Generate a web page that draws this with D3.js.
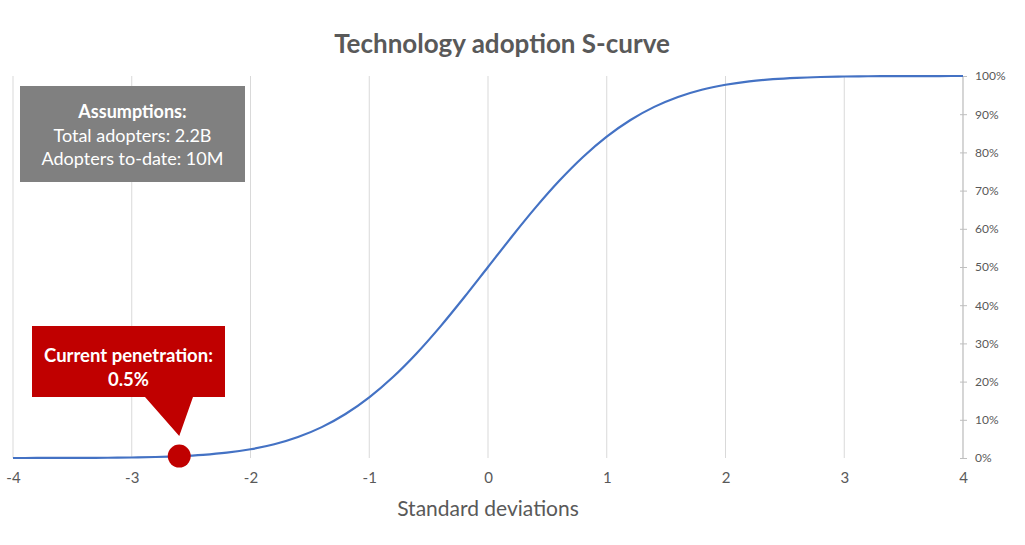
<!DOCTYPE html>
<html><head><meta charset="utf-8">
<script src="https://cdn.jsdelivr.net/npm/d3@7/dist/d3.min.js"></script>
<style>body{margin:0;background:#fff}svg{display:block}</style>
</head><body>
<svg id="c" width="1025" height="545"></svg>
<script>
// Data
const sdValues = [-4,-3.8,-3.6,-3.4,-3.2,-3,-2.8,-2.6,-2.4,-2.2,-2,-1.8,-1.6,-1.4,-1.2,-1,-0.8,-0.6,-0.4,-0.2,0,0.2,0.4,0.6,0.8,1,1.2,1.4,1.6,1.8,2,2.2,2.4,2.6,2.8,3,3.2,3.4,3.6,3.8,4];
const adoption = [0.00003,0.00007,0.00016,0.00034,0.00069,0.00135,0.00256,0.00466,0.0082,0.0139,0.0228,0.0359,0.0548,0.0808,0.1151,0.1587,0.2119,0.2743,0.3446,0.4207,0.5,0.5793,0.6554,0.7257,0.7881,0.8413,0.8849,0.9192,0.9452,0.9641,0.9772,0.9861,0.9918,0.99534,0.99744,0.99865,0.99931,0.99966,0.99984,0.99993,0.99997];
const xTicks = [-4,-3,-2,-1,0,1,2,3,4];
const yTicks = [0,0.1,0.2,0.3,0.4,0.5,0.6,0.7,0.8,0.9,1];
const currentPoint = {sd: -2.6, value: 0.005};
const title = "Technology adoption S-curve";
const xTitle = "Standard deviations";
const assumptionLines = ["Assumptions:", "Total adopters: 2.2B", "Adopters to-date: 10M"];
const calloutLines = ["Current penetration:", "0.5%"];

const font = "Lato, 'Open Sans', sans-serif";
const svg = d3.select("#c");
const x = d3.scaleLinear().domain([-4,4]).range([13,963]);
const y = d3.scaleLinear().domain([0,1]).range([458,76]);

// vertical gridlines
svg.append("g").selectAll("line").data(xTicks).join("line")
  .attr("x1", d=>x(d)).attr("x2", d=>x(d))
  .attr("y1", y(1)).attr("y2", y(0))
  .attr("stroke", "#d9d9d9").attr("stroke-width", 1);

// right y axis
const yAxis = d3.axisRight(y).tickValues(yTicks).tickFormat(d3.format(".0%")).tickSize(4).tickPadding(8);
const ya = svg.append("g").attr("transform", `translate(${x(4)},0)`).call(yAxis);
ya.select(".domain").attr("stroke", "#bfbfbf").attr("d", `M0,${y(1)}V${y(0)}`);
ya.selectAll(".tick line").attr("stroke", "#bfbfbf").attr("x1", -3);
ya.selectAll(".tick text").attr("fill", "#595959").attr("font-family", font).attr("font-size", 12);

// x axis labels
const xAxis = d3.axisBottom(x).tickValues(xTicks).tickSize(0).tickPadding(14).tickFormat(d3.format("d"));
const xa = svg.append("g").attr("transform", `translate(0,${y(0)})`).call(xAxis);
xa.select(".domain").remove();
xa.selectAll(".tick text").attr("fill", "#595959").attr("font-family", font).attr("font-size", 15)
  .text(d => d < 0 ? "-" + Math.abs(d) : d);

// curve
const line = d3.line().x((d,i)=>x(sdValues[i])).y(d=>y(d)).curve(d3.curveMonotoneX);
svg.append("path").datum(adoption).attr("d", line)
  .attr("fill", "none").attr("stroke", "#4472c4").attr("stroke-width", 2.2);

// title
svg.append("text").attr("x", 502).attr("y", 53).attr("text-anchor", "middle")
  .attr("font-family", font).attr("font-weight", "bold").attr("font-size", 26).attr("fill", "#595959").text(title);
svg.append("text").attr("x", x(0)).attr("y", 516).attr("text-anchor", "middle")
  .attr("font-family", font).attr("font-size", 21).attr("fill", "#595959").text(xTitle);

// assumptions box
svg.append("rect").attr("x", 20).attr("y", 86).attr("width", 225).attr("height", 96).attr("fill", "#808080");
svg.append("g").selectAll("text").data(assumptionLines).join("text")
  .attr("x", 132.5).attr("y", (d,i)=>118 + i*23.5).attr("text-anchor", "middle")
  .attr("font-family", font).attr("font-size", 18).attr("fill", "#fff")
  .attr("font-weight", (d,i)=> i===0 ? "bold" : "normal").text(d=>d);

// callout
const px = x(currentPoint.sd), py = y(currentPoint.value);
svg.append("path").attr("fill", "#c00000")
  .attr("d", `M32,326H225V397H193L${px},${py-20}L145,397H32Z`);
svg.append("g").selectAll("text").data(calloutLines).join("text")
  .attr("x", 128.5).attr("y", (d,i)=>362 + i*24).attr("text-anchor", "middle")
  .attr("font-family", font).attr("font-size", 18.5).attr("font-weight", "bold").attr("fill", "#fff").text(d=>d);
svg.append("circle").attr("cx", px).attr("cy", py).attr("r", 11.5).attr("fill", "#c00000");
</script>
</body></html>
